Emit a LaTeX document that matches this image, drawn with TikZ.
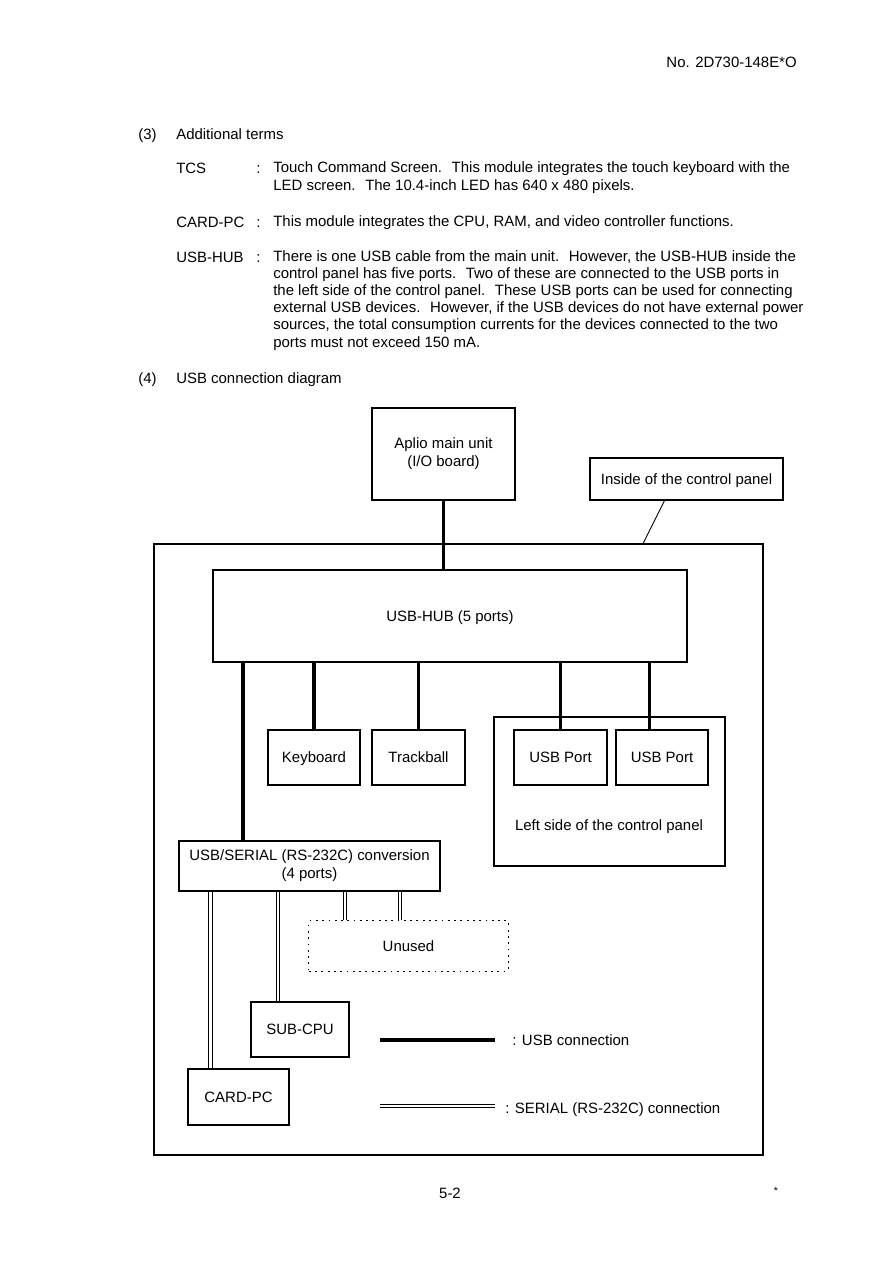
\documentclass[tikz,border=0pt]{standalone}
\usepackage{fontspec}
\setmainfont{Liberation Sans}
\usetikzlibrary{positioning, backgrounds}

\tikzset{
  box/.style={draw, line width=0.9pt, inner sep=0pt, align=center},
  onebox/.style={box, text height=7.2pt, text depth=0pt},
  usb/.style={line width=2.2pt},
  serial/.style={double, double distance=1.8pt, line width=0.6pt},
  txt/.style={anchor=west, inner sep=0pt, text height=7.2pt, text depth=0pt},
  para/.style={anchor=base west, inner sep=0pt, align=left,
    font=\fontsize{10}{11.4}\selectfont},
}

\begin{document}
\begin{tikzpicture}[x=0.0235cm, y=-0.0235cm]
  \useasboundingbox (0,0) rectangle (894,1263);

  % Page header
  \node[txt, anchor=east] (docno) at (797,62) {No. 2D730-148E*O};

  % Additional terms
  \node[txt] (sec3) at (138,134) {(3)};
  \node[txt] (sec3title) at (176,134) {Additional terms};

  \node[txt] (tcs) at (176,168) {TCS};
  \node[txt] (tcscolon) at (256,168) {:};
  \node[para] (tcsdef) at (273,190) {Touch Command Screen.~ This module integrates the touch keyboard with the\\
    LED screen.~ The 10.4-inch LED has 640 x 480 pixels.};

  \node[txt] (cardpc) at (176,222) {CARD-PC};
  \node[txt] (cardcolon) at (256,222) {:};
  \node[para] (carddef) at (273,226) {This module integrates the CPU, RAM, and video controller functions.};

  \node[txt] (usbhub) at (176,257) {USB-HUB};
  \node[txt] (hubcolon) at (256,257) {:};
  \node[para] (hubdef) at (273,347) {There is one USB cable from the main unit.~ However, the USB-HUB inside the\\
    control panel has five ports.~ Two of these are connected to the USB ports in\\
    the left side of the control panel.~ These USB ports can be used for connecting\\
    external USB devices.~ However, if the USB devices do not have external power\\
    sources, the total consumption currents for the devices connected to the two\\
    ports must not exceed 150 mA.};

  \node[txt] (sec4) at (138,378) {(4)};
  \node[txt] (sec4title) at (176,378) {USB connection diagram};

  % Boxes of the diagram
  \node[box, minimum width=14.31cm, minimum height=14.36cm] (panel) at (458.5,849.5) {};
  \node[box, minimum width=3.36cm, minimum height=2.16cm] (aplio) at (443.5,454) {Aplio main unit\\(I/O board)};
  \node[onebox, minimum width=4.54cm, minimum height=0.99cm] (inside) at (686.5,479) {Inside of the control panel};
  \node[onebox, minimum width=11.14cm, minimum height=2.16cm] (hub) at (450,616) {USB-HUB (5 ports)};
  \node[onebox, minimum width=2.16cm, minimum height=1.29cm] (kbd) at (314,757.5) {Keyboard};
  \node[onebox, minimum width=2.19cm, minimum height=1.29cm] (tball) at (418.5,757.5) {Trackball};
  \node[box, minimum width=5.43cm, minimum height=3.50cm] (leftside) at (609.5,791.5) {};
  \node[onebox, minimum width=2.19cm, minimum height=1.29cm] (porta) at (560.5,757.5) {USB Port};
  \node[onebox, minimum width=2.16cm, minimum height=1.29cm] (portb) at (662,757.5) {USB Port};
  \node[inner sep=0pt] (leftlbl) at (609,827) {Left side of the control panel};
  \node[box, minimum width=6.13cm, minimum height=1.18cm] (conv) at (309.5,866) {USB/SERIAL (RS-232C) conversion\\(4 ports)};
  \node[onebox, line width=0.6pt, dash pattern=on 1.2pt off 3pt, minimum width=4.68cm, minimum height=1.18cm] (unused) at (408.5,946) {Unused};
  \node[onebox, minimum width=2.30cm, minimum height=1.29cm] (subcpu) at (300,1029.5) {SUB-CPU};
  \node[onebox, minimum width=2.37cm, minimum height=1.32cm] (card) at (238.5,1097) {CARD-PC};

  % Connections
  \coordinate (portbin) at ([xshift=-0.3cm]portb.north);
  \coordinate (convin) at ([xshift=-1.56cm]conv.north);
  \coordinate (cardin) at ([xshift=-0.66cm]card.north);
  \coordinate (subin) at ([xshift=-0.52cm]subcpu.north);
  \coordinate (unuseda) at ([xshift=-1.49cm]unused.north);
  \coordinate (unusedb) at ([xshift=-0.2cm]unused.north);
  \coordinate (insidefoot) at ([xshift=-0.52cm]inside.south);
  \coordinate (panelfoot) at ([xshift=4.34cm]panel.north);
  \begin{scope}[on background layer]
    \draw[usb] (aplio.south) -- (aplio.south |- hub.north);
    \draw[usb] (kbd.north) -- (kbd.north |- hub.south);
    \draw[usb] (tball.north) -- (tball.north |- hub.south);
    \draw[usb] (porta.north) -- (porta.north |- hub.south);
    \draw[usb] (portbin) -- (portbin |- hub.south);
    \draw[usb] (convin) -- (convin |- hub.south);
    \draw[serial] (cardin) -- (cardin |- conv.south);
    \draw[serial] (subin) -- (subin |- conv.south);
    \draw[serial] (unuseda) -- (unuseda |- conv.south);
    \draw[serial] (unusedb) -- (unusedb |- conv.south);
  \end{scope}
  \draw[line width=0.6pt] (insidefoot) -- (panelfoot);

  % Legend
  \coordinate (usbl) at (380,1040);
  \coordinate (usbr) at (495,1040);
  \draw[usb] (usbl) -- (usbr);
  \node[txt] (usbtxt) at (512,1040) {: USB connection};
  \coordinate (serl) at (380,1106);
  \coordinate (serr) at (495,1106);
  \draw[serial] (serl) -- (serr);
  \node[txt] (sertxt) at (505,1108) {: SERIAL (RS-232C) connection};

  % Footer
  \node[txt, anchor=center] (pageno) at (450,1193) {5-2};
  \node[inner sep=0pt, font=\scriptsize] (star) at (776,1191) {*};
\end{tikzpicture}
\end{document}
